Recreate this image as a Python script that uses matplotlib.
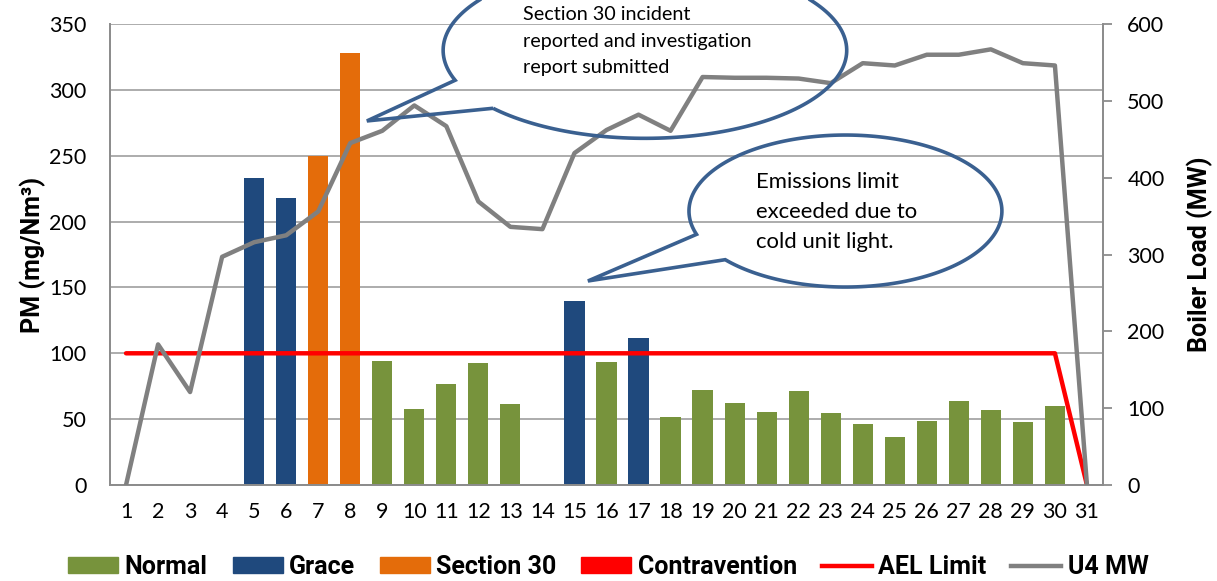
import numpy as np
import matplotlib
matplotlib.use("Agg")
import matplotlib.pyplot as plt
from matplotlib.patches import Patch, Polygon
from matplotlib.lines import Line2D

plt.rcParams['font.family'] = ['Lato', 'DejaVu Sans']
BOLD = ['Roboto', 'DejaVu Sans']

days = list(range(1, 32))
pm = [0, 0, 0, 0, 233, 218, 250, 328, 94, 58, 76.5, 93, 61.5, 0, 140, 93.4,
      111.6, 52, 72.4, 62.3, 55.7, 71, 55, 46, 36.7, 48.8, 64, 57, 47.8, 60.2, 0]
status = ['Normal'] * 31
for d in (5, 6, 15, 17):
    status[d - 1] = 'Grace'
for d in (7, 8):
    status[d - 1] = 'Section 30'
ael_limit = [100] * 30 + [0]
u4_mw = [0, 183, 121, 297, 316, 325, 356, 445, 461, 494, 467, 369, 336, 333,
         432, 462, 482, 461, 531, 530, 530, 529, 523, 549, 546, 560, 560, 567,
         549, 546, 0]

categories = ['Normal', 'Grace', 'Section 30', 'Contravention']
cat_colors = {'Normal': '#77933C', 'Grace': '#1F497D',
              'Section 30': '#E46C0A', 'Contravention': '#FF0000'}

note1 = "Section 30 incident\nreported and investigation\nreport submitted"
note2 = "Emissions limit\nexceeded due to\ncold unit light."

fig = plt.figure(figsize=(12.17, 5.81), dpi=100)
ax = fig.add_axes([0.0904, 0.1652, 0.8159, 0.7935])
ax2 = ax.twinx()

# bars per category
for cat in categories:
    xs = [d for d, s, v in zip(days, status, pm) if s == cat and v > 0]
    hs = [v for d, s, v in zip(days, status, pm) if s == cat and v > 0]
    if xs:
        ax.bar(xs, hs, width=0.63, color=cat_colors[cat], zorder=2)

ax.plot(days, ael_limit, color='#FF0000', lw=3.2, zorder=3,
        solid_capstyle='round')
ax2.plot(days, u4_mw, color='#808080', lw=3.2, zorder=3)

ax.set_xlim(0.5, 31.5)
ax.set_ylim(0, 350)
ax2.set_ylim(0, 600)
ax.set_yticks(range(0, 351, 50))
ax2.set_yticks(range(0, 601, 100))
ax.set_xticks(days)
ax.grid(axis='y', color='#A6A6A6', lw=1.3, zorder=0)
ax.set_axisbelow(True)

for a in (ax, ax2):
    a.spines['top'].set_visible(False)
    for s in ('left', 'right', 'bottom'):
        a.spines[s].set_color('#8C8C8C')
        a.spines[s].set_linewidth(1.3)
ax.tick_params(axis='y', labelsize=15.5, length=0, pad=17)
ax.tick_params(axis='x', labelsize=15.5, length=0, pad=12)
ax2.tick_params(axis='y', labelsize=15.5, length=6.5, width=1.3,
                color='#8C8C8C', pad=11)

ax.set_ylabel('PM (mg/Nm³)', fontsize=18, fontweight='bold', family=BOLD,
              labelpad=2)
ax2.set_ylabel('Boiler Load (MW)', fontsize=18, fontweight='bold',
               family=BOLD, labelpad=16)

# speech bubbles (in left-axis data units)
def bubble(cx, cy, a, b, p1, tip, p2):
    t1 = np.arctan2((p1[1] - cy) / b, (p1[0] - cx) / a)
    t2 = np.arctan2((p2[1] - cy) / b, (p2[0] - cx) / a)
    if t1 < t2:
        t1 += 2 * np.pi
    ts = np.linspace(t2, t1, 200)
    pts = [(cx + a * np.cos(t), cy + b * np.sin(t)) for t in ts]
    pts.append(tip)
    poly = Polygon(pts, closed=True, fill=False, edgecolor='#3A6090', lw=2.6,
                   transform=ax.transData, clip_on=False, zorder=5)
    ax2.add_patch(poly)

bubble(17.2, 330, 6.3, 66.8, (11.33, 307.5), (8.52, 276.4), (12.49, 286.3))
bubble(23.46, 208, 4.885, 57.7, (18.89, 190.6), (15.42, 154.9), (19.76, 171.6))

ax2.text(13.39, 337, note1, transform=ax.transData, fontsize=14.2,
         va='center', ha='left', linespacing=1.67, zorder=6)
ax2.text(20.67, 207.3, note2, transform=ax.transData, fontsize=15.9,
         va='center', ha='left', linespacing=1.64, zorder=6)

handles = [Patch(color=cat_colors[c]) for c in categories]
handles += [Line2D([], [], color='#FF0000', lw=3.2),
            Line2D([], [], color='#808080', lw=3.2)]
labels = categories + ['AEL Limit', 'U4 MW']
fig.legend(handles, labels, loc='center', bbox_to_anchor=(0.5, 0.024),
           ncol=6, frameon=False, handlelength=2.0, handleheight=0.6,
           handletextpad=0.25, columnspacing=1.0,
           prop={'weight': 'bold', 'size': 18, 'family': BOLD})

fig.savefig('out.png', dpi=100)
